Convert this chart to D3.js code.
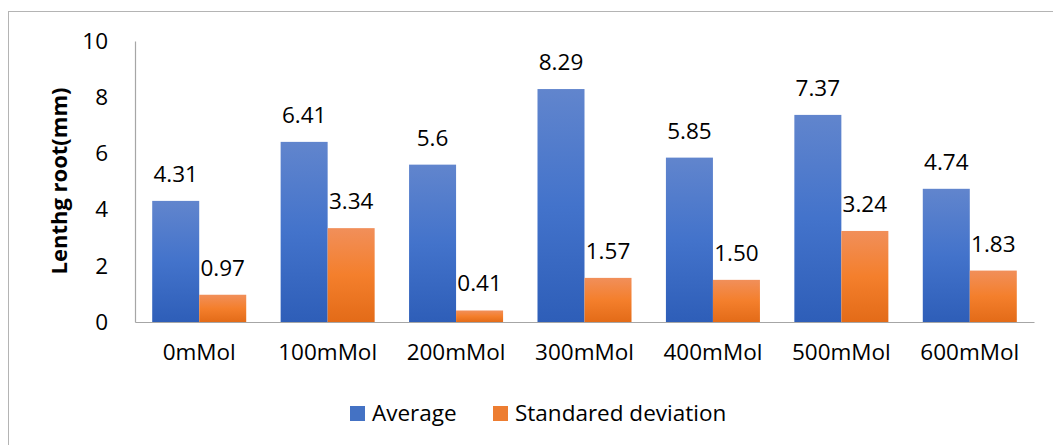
<!DOCTYPE html>
<html><head><meta charset="utf-8">
<script src="https://cdn.jsdelivr.net/npm/d3@7"></script>
<style>
html,body{margin:0;padding:0;background:#fff;}
svg{display:block;font-family:"Open Sans",sans-serif;}
</style></head>
<body><svg id="c" width="1053" height="445"></svg>
<script>
const categories = ["0mMol","100mMol","200mMol","300mMol","400mMol","500mMol","600mMol"];
const average = [4.31, 6.41, 5.6, 8.29, 5.85, 7.37, 4.74];
const averageLabels = ["4.31","6.41","5.6","8.29","5.85","7.37","4.74"];
const stdev = [0.97, 3.34, 0.41, 1.57, 1.50, 3.24, 1.83];
const stdevLabels = ["0.97","3.34","0.41","1.57","1.50","3.24","1.83"];
const seriesNames = ["Average","Standared deviation"];
const yTicks = [0,2,4,6,8,10];

const FS = 22.5;
const svg = d3.select("#c");
svg.append("rect").attr("x",8.5).attr("y",11.5).attr("width",1100).attr("height",600)
  .attr("fill","none").attr("stroke","#b4b4b4").attr("stroke-width",1);

const defs = svg.append("defs");
const grads = [
  {id:"gBlue", stops:[["0%","#6185cd"],["50%","#4373cb"],["100%","#2e5eb8"]]},
  {id:"gOrange", stops:[["0%","#f18f5a"],["50%","#f47f2c"],["100%","#e36b18"]]}
];
grads.forEach(g=>{
  const lg = defs.append("linearGradient").attr("id",g.id).attr("x1",0).attr("y1",0).attr("x2",0).attr("y2",1);
  g.stops.forEach(s=>lg.append("stop").attr("offset",s[0]).attr("stop-color",s[1]));
});
const fills = ["url(#gBlue)","url(#gOrange)"];
const legendFills = ["#4472c4","#ed7d31"];

const x0 = d3.scaleBand().domain(categories).range([135,1034]).paddingInner(0.268).paddingOuter(0.134);
const x1 = d3.scaleBand().domain([0,1]).range([0,x0.bandwidth()]).padding(0);
const y = d3.scaleLinear().domain([0,10]).range([322,41]);

const series = [average, stdev];
const labels = [averageLabels, stdevLabels];

series.forEach((vals,si)=>{
  svg.append("g").selectAll("rect").data(vals).join("rect")
    .attr("x",(d,i)=>x0(categories[i])+x1(si))
    .attr("y",d=>y(d))
    .attr("width",x1.bandwidth())
    .attr("height",d=>y(0)-y(d))
    .attr("fill",fills[si]);
  svg.append("g").selectAll("text").data(vals).join("text")
    .attr("x",(d,i)=>x0(categories[i])+x1(si)+x1.bandwidth()/2)
    .attr("y",d=>y(d)-19)
    .attr("text-anchor","middle")
    .attr("font-size",FS).attr("fill","#000")
    .text((d,i)=>labels[si][i]);
});

const yAxis = d3.axisLeft(y).tickValues(yTicks).tickSize(0).tickPadding(27).tickFormat(d3.format("d"));
const gy = svg.append("g").attr("transform","translate(135,0)").call(yAxis);
gy.select(".domain").attr("stroke","#a6a6a6").attr("stroke-width",1.2);
gy.selectAll("text").attr("font-size",FS).attr("font-family","Open Sans").attr("fill","#000");

const xAxis = d3.axisBottom(x0).tickSize(0).tickPadding(22);
const gx = svg.append("g").attr("transform","translate(0,322)").call(xAxis);
gx.select(".domain").attr("stroke","#a6a6a6").attr("stroke-width",1.2);
gx.selectAll("text").attr("font-size",FS).attr("font-family","Open Sans").attr("fill","#000");

svg.append("text").attr("transform","translate(67,181) rotate(-90)")
  .attr("text-anchor","middle").attr("font-size",22).attr("font-weight","bold")
  .attr("fill","#000").text("Lenthg root(mm)");

const legX = [350, 493];
seriesNames.forEach((n,i)=>{
  svg.append("rect").attr("x",legX[i]).attr("y",406).attr("width",15).attr("height",15).attr("fill",legendFills[i]);
  svg.append("text").attr("x",legX[i]+22).attr("y",413.5).attr("dy","0.35em")
    .attr("font-size",FS).attr("fill","#000").text(n);
});
</script></body></html>
